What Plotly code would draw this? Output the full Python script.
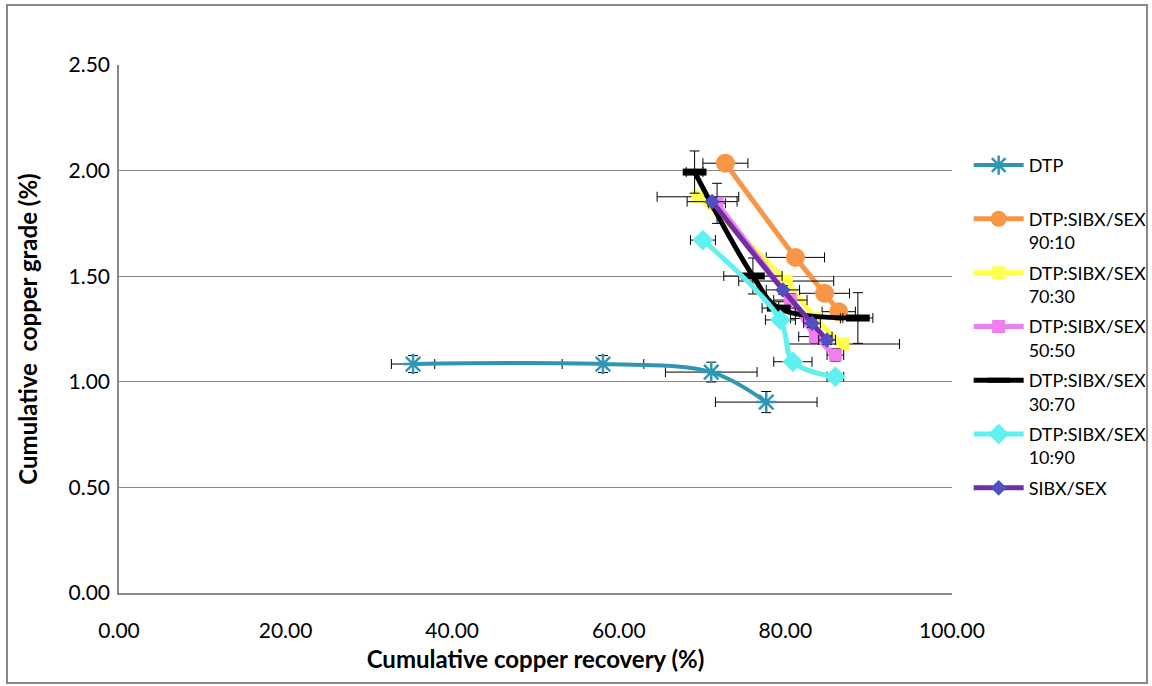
import plotly.graph_objects as go

# ---------------- data ----------------
dtp_x = [35.3, 58.1, 71.1, 77.7]
dtp_y = [1.084, 1.084, 1.046, 0.904]
dtp_ex = [2.6, 4.9, 5.5, 6.1]
dtp_ey = [0.04, 0.04, 0.047, 0.05]

s9010_x = [72.8, 81.2, 84.7, 86.4]
s9010_y = [2.035, 1.589, 1.419, 1.332]
s9010_ex = [2.7, 3.5, 3.0, 2.0]
s9010_ey = [0.0, 0.0, 0.0, 0.0]

s7030_x = [69.5, 80.1, 83.6, 86.9]
s7030_y = [1.876, 1.477, 1.30, 1.179]
s7030_ex = [4.9, 5.7, 3.0, 6.8]
s7030_ey = [0.02, 0.02, 0.02, 0.02]

s5050_x = [71.8, 80.6, 83.6, 86.0]
s5050_y = [1.845, 1.387, 1.214, 1.127]
s5050_ex = [1.0, 2.0, 2.0, 1.0]
s5050_ey = [0.095, 0.03, 0.03, 0.03]

s3070_x = [69.1, 76.1, 79.2, 88.7]
s3070_y = [1.993, 1.501, 1.349, 1.302]
s3070_ex = [1.0, 3.5, 2.0, 1.8]
s3070_ey = [0.10, 0.085, 0.03, 0.12]

s1090_x = [70.1, 79.4, 80.9, 86.0]
s1090_y = [1.671, 1.293, 1.095, 1.024]
s1090_ex = [1.5, 1.8, 2.3, 1.0]
s1090_ey = [0.02, 0.02, 0.02, 0.02]

sibx_x = [71.2, 79.7, 83.2, 85.0]
sibx_y = [1.853, 1.435, 1.277, 1.198]
sibx_ex = [3.0, 2.0, 1.0, 1.0]
sibx_ey = [0.02, 0.02, 0.02, 0.02]

names = ["DTP<br> ", "DTP:SIBX/SEX<br>90:10", "DTP:SIBX/SEX<br>70:30",
         "DTP:SIBX/SEX<br>50:50", "DTP:SIBX/SEX<br>30:70",
         "DTP:SIBX/SEX<br>10:90", "SIBX/SEX<br> "]

FONT = "Lato"

series = [
    (dtp_x, dtp_y, dtp_ex, dtp_ey, "#2F96B4", 4, dict(symbol="asterisk-open", size=17, line=dict(width=2.5, color="#2F96B4"))),
    (s9010_x, s9010_y, s9010_ex, s9010_ey, "#F79646", 5, dict(symbol="circle", size=19, color="#F79646")),
    (s7030_x, s7030_y, s7030_ex, s7030_ey, "#FFFF4D", 5, dict(symbol="square", size=13, color="#FFFF4D")),
    (s5050_x, s5050_y, s5050_ex, s5050_ey, "#F07EF0", 5, dict(symbol="square", size=13, color="#F07EF0")),
    (s3070_x, s3070_y, s3070_ex, s3070_ey, "#000000", 5, dict(symbol="line-ew-open", size=17, line=dict(width=7, color="#000000"))),
    (s1090_x, s1090_y, s1090_ex, s1090_ey, "#5FF0F0", 5, dict(symbol="diamond", size=16, color="#5FF0F0")),
    (sibx_x, sibx_y, sibx_ex, sibx_ey, "#7030A0", 5, dict(symbol="diamond", size=12, color="#5050C0")),
]

fig = go.Figure()
for i, (x, y, ex, ey, col, lw, mk) in enumerate(series):
    fig.add_trace(go.Scatter(
        x=x, y=y, name=names[i], mode="lines+markers",
        line=dict(color=col, width=lw, shape="spline", smoothing=1),
        marker=mk,
        legendgroup=f"g{i}",
        error_x=dict(type="data", array=ex, color="#000000", thickness=1, width=5),
        error_y=dict(type="data", array=ey, color="#000000", thickness=1, width=5),
    ))

fig.update_layout(
    width=1152, height=686,
    margin=dict(l=119, r=200, t=65, b=93, autoexpand=False),
    paper_bgcolor="white", plot_bgcolor="white",
    font=dict(family=FONT, color="#000000"),
    showlegend=True,
    legend=dict(x=1.02, y=0.845, xanchor="left", yanchor="top",
                font=dict(family=FONT, size=18, color="#000000"),
                itemwidth=50, valign="top", tracegroupgap=4,
                bgcolor="rgba(0,0,0,0)"),
    xaxis=dict(range=[0, 100], dtick=20, tick0=0, tickformat=".2f",
               showgrid=False, zeroline=False, showline=True,
               linecolor="#888888", linewidth=1.5, ticks="",
               ticklabelstandoff=18,
               tickfont=dict(family=FONT, size=21),
               title=dict(text="<b>Cumulative copper recovery (%)</b>",
                          font=dict(family=FONT, size=24), standoff=10)),
    yaxis=dict(range=[0, 2.5], dtick=0.5, tick0=0, tickformat=".2f",
               showgrid=True, gridcolor="#888888", gridwidth=1.2,
               zeroline=False, showline=True, linecolor="#888888",
               linewidth=1.5, ticks="", ticklen=0,
               ticklabelstandoff=3,
               tickfont=dict(family=FONT, size=21),
               title=dict(text="<b>Cumulative  copper grade (%)</b>",
                          font=dict(family=FONT, size=24), standoff=24)),
    shapes=[dict(type="rect", xref="paper", yref="paper",
                 x0=(7 - 119) / 833, x1=(1147 - 119) / 833,
                 y0=(593 - 683) / 528, y1=(593 - 5) / 528,
                 line=dict(color="#888888", width=2), fillcolor="rgba(0,0,0,0)",
                 layer="below")],
)

fig.write_html("out.html")
